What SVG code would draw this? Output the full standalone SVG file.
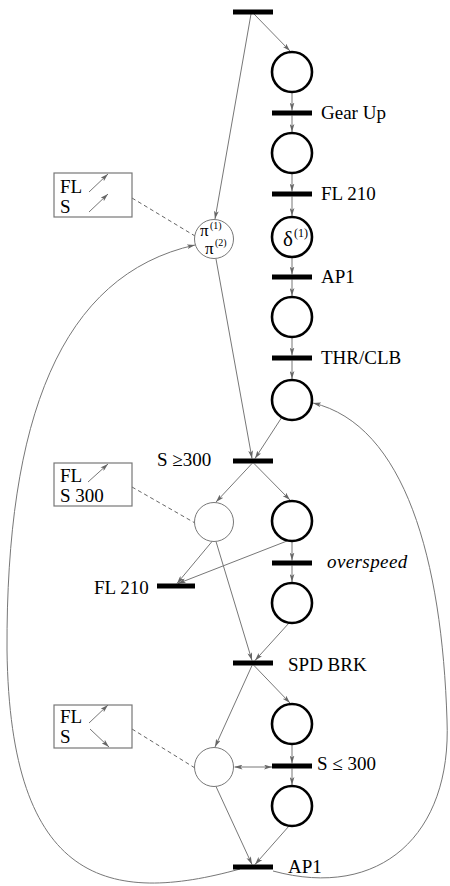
<svg xmlns="http://www.w3.org/2000/svg" width="450" height="886" viewBox="0 0 450 886">
<defs>
<marker id="ah" viewBox="0 0 10 6" refX="10" refY="3" markerWidth="8" markerHeight="5" markerUnits="userSpaceOnUse" orient="auto-start-reverse">
<path d="M0,0 L10,3 L0,6 L2.5,3 z" fill="#666"/>
</marker>
</defs>
<style>
.bar{fill:#000}
.pl{fill:#fff;stroke:#000;stroke-width:2.6}
.pt{fill:#fff;stroke:#777;stroke-width:1}
.ln{fill:none;stroke:#777;stroke-width:1;marker-end:url(#ah)}
.dl{fill:none;stroke:#666;stroke-width:1;stroke-dasharray:4,3}
.bx{fill:#fff;stroke:#777;stroke-width:1.2}
text{font-family:"Liberation Serif","Times New Roman",serif;font-size:19px;fill:#000}
.it{font-style:italic;letter-spacing:0.4px}
.gr{font-size:21px}
.pi{font-size:17px}
.sup{font-size:12px}
.sup2{font-size:10px}
</style>
<rect width="450" height="886" fill="#fff"/>

<g id="connectors">
<line class="ln" x1="254" y1="14" x2="290" y2="51"/>
<line class="ln" x1="292" y1="93" x2="292" y2="110.5"/>
<line class="ln" x1="292" y1="115.5" x2="292" y2="132"/>
<line class="ln" x1="292" y1="174" x2="292" y2="191.5"/>
<line class="ln" x1="292" y1="196.5" x2="292" y2="216"/>
<line class="ln" x1="292" y1="258" x2="292" y2="274.5"/>
<line class="ln" x1="292" y1="279.5" x2="292" y2="296"/>
<line class="ln" x1="292" y1="338" x2="292" y2="355.5"/>
<line class="ln" x1="292" y1="360.5" x2="292" y2="379"/>
<line class="ln" x1="282" y1="417" x2="255" y2="458.5"/>
<line class="ln" x1="251" y1="14" x2="215" y2="219"/>
<line class="ln" x1="216" y1="259" x2="252" y2="458.5"/>
<line class="ln" x1="254" y1="463.5" x2="290" y2="500"/>
<line class="ln" x1="252" y1="463.5" x2="216" y2="502"/>
<line class="ln" x1="292" y1="542" x2="292" y2="560.5"/>
<line class="ln" x1="292" y1="565.5" x2="292" y2="582"/>
<line class="ln" x1="287" y1="541" x2="178" y2="583.5"/>
<line class="ln" x1="212" y1="541.5" x2="177" y2="583.5"/>
<line class="ln" x1="216" y1="541.5" x2="252" y2="660.5"/>
<line class="ln" x1="289" y1="623" x2="255" y2="660.5"/>
<line class="ln" x1="254" y1="665.5" x2="290" y2="703"/>
<line class="ln" x1="252" y1="665.5" x2="215" y2="747"/>
<line class="ln" x1="292" y1="745" x2="292" y2="763.5"/>
<line class="ln" x1="292" y1="768.5" x2="292" y2="785"/>
<line class="ln" x1="234.5" y1="767" x2="272" y2="767" style="marker-start:url(#ah)"/>
<line class="ln" x1="216" y1="786.5" x2="252" y2="864.5"/>
<line class="ln" x1="289" y1="826" x2="255" y2="864.5"/>
<path class="ln" d="M240 869 C 110 905, 10 885, 7 650 C 6 420, 60 275, 195 245"/>
<path class="ln" d="M273 871 C 380 900, 452 835, 447 720 C 442 560, 405 425, 313 403"/>
<line class="dl" x1="132" y1="198" x2="195" y2="236"/>
<line class="dl" x1="132" y1="487" x2="195" y2="523"/>
<line class="dl" x1="132" y1="729" x2="195" y2="768"/>
</g>

<g id="t_top"><rect class="bar" x="233" y="9.5" width="40" height="5"/></g>
<g id="p1"><circle class="pl" cx="292" cy="72" r="20"/></g>
<g id="t_gearup"><rect class="bar" x="272" y="110.5" width="40" height="5"/><text x="321" y="119">Gear Up</text></g>
<g id="p2"><circle class="pl" cx="292" cy="153" r="20"/></g>
<g id="t_fl210"><rect class="bar" x="272" y="191.5" width="40" height="5"/><text x="321" y="200">FL 210</text></g>
<g id="p3"><circle class="pl" cx="292" cy="237" r="20"/><text x="283" y="246"><tspan class="gr">δ</tspan><tspan class="sup" x="294" y="237">(1)</tspan></text></g>
<g id="t_ap1"><rect class="bar" x="272" y="274.5" width="40" height="5"/><text x="321" y="283">AP1</text></g>
<g id="p4"><circle class="pl" cx="292" cy="317" r="20"/></g>
<g id="t_thr"><rect class="bar" x="272" y="355.5" width="40" height="5"/><text x="321" y="364">THR/CLB</text></g>
<g id="p5"><circle class="pl" cx="292" cy="400" r="20"/></g>

<g id="pi"><circle class="pt" cx="214" cy="239" r="19.5"/><text class="pi" x="200" y="236">π</text><text class="sup2" x="210" y="229">(1)</text><text class="pi" x="205" y="254">π</text><text class="sup2" x="215" y="246">(2)</text></g>
<g id="box1"><rect class="bx" x="54" y="173" width="78" height="44"/><text x="60" y="193">FL</text><text x="60" y="213">S</text><line class="ln" x1="89" y1="192" x2="108" y2="174"/><line class="ln" x1="89" y1="212" x2="108" y2="194"/></g>

<g id="t_sge"><rect class="bar" x="233" y="458.5" width="40" height="5"/><text x="157" y="466">S ≥300</text></g>
<g id="p6"><circle class="pl" cx="292" cy="521" r="20"/></g>
<g id="l2"><circle class="pt" cx="214" cy="522" r="19.5"/></g>
<g id="box2"><rect class="bx" x="54" y="463" width="78" height="43"/><text x="60" y="482">FL</text><text x="60" y="502">S 300</text><line class="ln" x1="88" y1="482" x2="108" y2="464"/></g>
<g id="t_over"><rect class="bar" x="272" y="560.5" width="40" height="5"/><text class="it" x="327" y="568">overspeed</text></g>
<g id="t_fl210b"><rect class="bar" x="157" y="583.5" width="38" height="5"/><text x="94" y="594">FL 210</text></g>
<g id="p7"><circle class="pl" cx="292" cy="603" r="20"/></g>
<g id="t_spd"><rect class="bar" x="233" y="660.5" width="40" height="5"/><text x="288" y="671">SPD BRK</text></g>
<g id="p8"><circle class="pl" cx="292" cy="724" r="20"/></g>
<g id="l3"><circle class="pt" cx="214" cy="767" r="19.5"/></g>
<g id="box3"><rect class="bx" x="54" y="705" width="78" height="43"/><text x="60" y="723">FL</text><text x="60" y="743">S</text><line class="ln" x1="89" y1="723" x2="108" y2="705"/><line class="ln" x1="90" y1="729" x2="109" y2="747"/></g>
<g id="t_sle"><rect class="bar" x="272" y="763.5" width="40" height="5"/><text x="317" y="770">S ≤ 300</text></g>
<g id="p9"><circle class="pl" cx="292" cy="806" r="20"/></g>
<g id="t_ap1b"><rect class="bar" x="233" y="864.5" width="40" height="5"/><text x="288" y="873">AP1</text></g>
</svg>
